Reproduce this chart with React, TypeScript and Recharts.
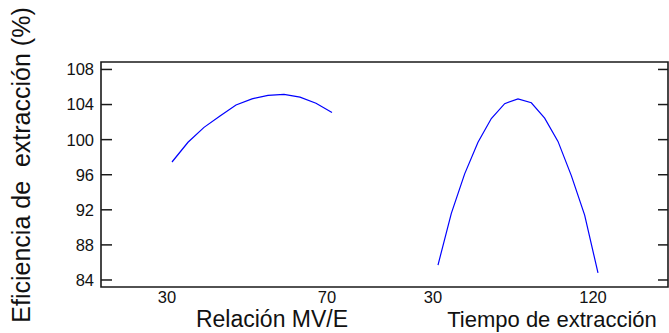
import React from 'react';
import { LineChart, Line, XAxis, YAxis, ReferenceArea } from 'recharts';

// Main effects: Relación MV/E
const relacionX = [30, 34, 38, 42, 46, 50, 54, 58, 62, 66, 70];
const relacionY = [97.45, 99.7, 101.4, 102.7, 103.95, 104.65, 105.05, 105.15, 104.85, 104.15, 103.1];
// Main effects: Tiempo de extracción
const tiempoX = [30, 37.5, 45, 52.5, 60, 67.5, 75, 82.5, 90, 97.5, 105, 112.5, 120];
const tiempoY = [85.7, 91.6, 96.1, 99.7, 102.4, 104.1, 104.65, 104.2, 102.45, 99.8, 95.9, 91.4, 84.8];

const yTicks = [84, 88, 92, 96, 100, 104, 108];
const relacionTicks = [30, 70];
const tiempoTicks = [30, 120];

const yTitle = 'Eficiencia de  extracción (%)';
const relacionTitle = 'Relación MV/E';
const tiempoTitle = 'Tiempo de extracción';

const relacionData = relacionX.map((x, i) => ({ x, y: relacionY[i] }));
const tiempoData = tiempoX.map((x, i) => ({ x, y: tiempoY[i] }));

const yDomain: [number, number] = [83.2, 108.85];
const relDomain: [number, number] = [12.25, 154];
const tieDomain: [number, number] = [-159.56, 159.38];

const FONT = '"Liberation Sans", Arial, Helvetica, sans-serif';
const INK = '#1a1a1a';

const LeftTick = (props: any) => {
  const { y, payload } = props;
  return (
    <g>
      <line x1={101} x2={112} y1={y} y2={y} stroke={INK} strokeWidth={1.5} />
      <text x={94} y={y} dy="0.36em" textAnchor="end" fontSize={16.5} fontFamily={FONT} fill="#111">
        {payload.value}
      </text>
    </g>
  );
};

const RightTick = (props: any) => {
  const { y } = props;
  return <line x1={658} x2={668} y1={y} y2={y} stroke={INK} strokeWidth={1.5} />;
};

const BottomTick = (props: any) => {
  const { x, payload } = props;
  return (
    <text x={x - 5} y={303} textAnchor="middle" fontSize={16.5} fontFamily={FONT} fill="#111">
      {payload.value}
    </text>
  );
};

const XTitle = (props: any) => (
  <text x={props.cx} y={327} textAnchor="middle" fontSize={props.size} fontFamily={FONT} fill="#111">
    {props.text}
  </text>
);

const YTitle = (props: any) => (
  <text
    x={30}
    y={165}
    transform="rotate(-90, 30, 165)"
    textAnchor="middle"
    fontSize={25}
    fontFamily={FONT}
    fill="#111"
    style={{ whiteSpace: 'pre' }}
  >
    {props.text}
  </text>
);

export default function App() {
  return (
    <div style={{ position: 'absolute', left: 0, top: 0, width: 669, height: 333, background: '#fff' }}>
      <LineChart width={669} height={333} margin={{ top: 62, right: 0, bottom: 44, left: 0 }}>
        <XAxis
          xAxisId="rel"
          type="number"
          dataKey="x"
          domain={relDomain}
          allowDataOverflow
          ticks={relacionTicks}
          interval={0}
          height={1}
          axisLine={false}
          tickLine={false}
          tick={<BottomTick />}
          label={<XTitle cx={272} size={23} text={relacionTitle} />}
        />
        <XAxis
          xAxisId="tie"
          type="number"
          dataKey="x"
          domain={tieDomain}
          allowDataOverflow
          ticks={tiempoTicks}
          interval={0}
          height={1}
          axisLine={false}
          tickLine={false}
          tick={<BottomTick />}
          label={<XTitle cx={552} size={22} text={tiempoTitle} />}
        />
        <YAxis
          yAxisId="left"
          type="number"
          domain={yDomain}
          allowDataOverflow
          ticks={yTicks}
          interval={0}
          width={101}
          axisLine={false}
          tickLine={false}
          tick={<LeftTick />}
          label={<YTitle text={yTitle} />}
        />
        <YAxis
          yAxisId="right"
          orientation="right"
          type="number"
          domain={yDomain}
          allowDataOverflow
          ticks={yTicks}
          interval={0}
          width={1}
          axisLine={false}
          tickLine={false}
          tick={<RightTick />}
        />
        <ReferenceArea
          xAxisId="rel"
          yAxisId="left"
          x1={relDomain[0]}
          x2={relDomain[1]}
          y1={yDomain[0]}
          y2={yDomain[1]}
          fill="none"
          fillOpacity={0}
          stroke={INK}
          strokeWidth={1.6}
          ifOverflow="visible"
        />
        <Line
          data={relacionData}
          xAxisId="rel"
          yAxisId="left"
          dataKey="y"
          type="linear"
          stroke="#0000ff"
          strokeWidth={1.2}
          dot={false}
          activeDot={false}
          isAnimationActive={false}
        />
        <Line
          data={tiempoData}
          xAxisId="tie"
          yAxisId="left"
          dataKey="y"
          type="linear"
          stroke="#0000ff"
          strokeWidth={1.2}
          dot={false}
          activeDot={false}
          isAnimationActive={false}
        />
      </LineChart>
    </div>
  );
}
